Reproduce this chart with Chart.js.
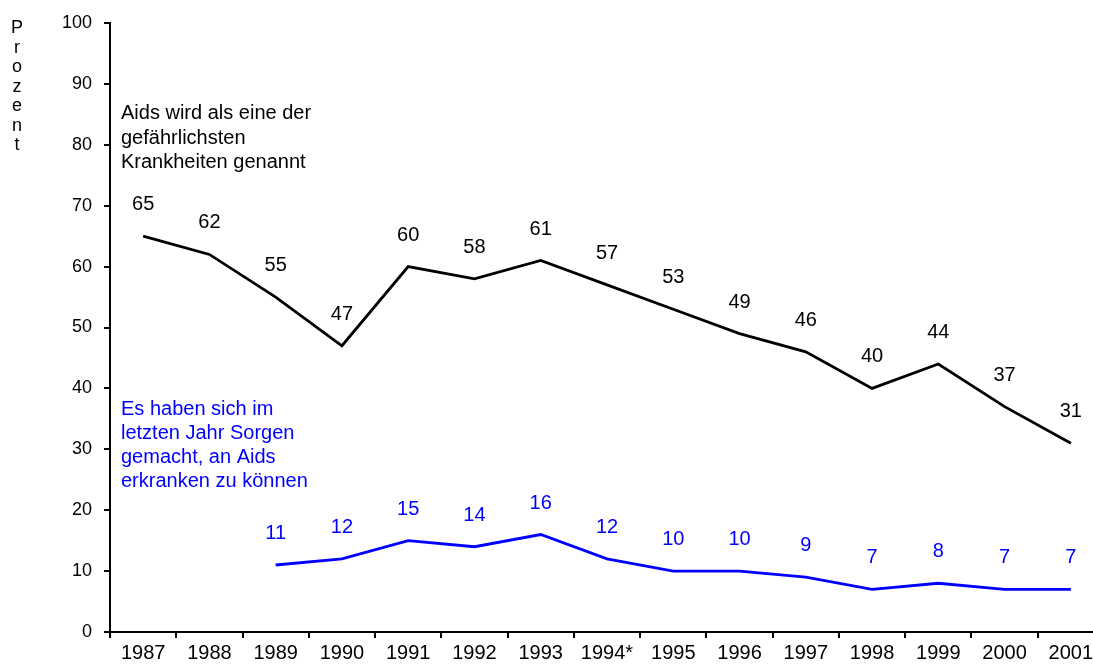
<!DOCTYPE html>
<html>
<head>
<meta charset="utf-8">
<script src="https://cdn.jsdelivr.net/npm/chart.js@4"></script>
<style>
  html, body { margin: 0; padding: 0; background: #fff; overflow: hidden; }
  #wrap { width: 1106px; height: 671px; }
</style>
</head>
<body>
<div id="wrap"><canvas id="chart"></canvas></div>
<script>
// Jahre und Werte (Prozent)
const years = ["1987", "1988", "1989", "1990", "1991", "1992", "1993", "1994*", "1995", "1996", "1997", "1998", "1999", "2000", "2001"];
const gefaehrlich = [65, 62, 55, 47, 60, 58, 61, 57, 53, 49, 46, 40, 44, 37, 31];
const sorgen = [null, null, 11, 12, 15, 14, 16, 12, 10, 10, 9, 7, 8, 7, 7];

const noteBlack = ["Aids wird als eine der", "gefährlichsten", "Krankheiten genannt"];
const noteBlue = ["Es haben sich im", "letzten Jahr Sorgen", "gemacht, an Aids", "erkranken zu können"];
const axisTitle = "Prozent";

const FONT = "'Liberation Sans', Arial, sans-serif";
const BLUE = "#0000ff";

// Werte über den Punkten + Beschriftungen
const labelPlugin = {
  id: "labels",
  afterDatasetsDraw(chart) {
    const { ctx, chartArea } = chart;
    ctx.save();
    ctx.font = "20px " + FONT;
    ctx.textAlign = "center";
    ctx.textBaseline = "alphabetic";
    chart.data.datasets.forEach((ds, i) => {
      const meta = chart.getDatasetMeta(i);
      ctx.fillStyle = ds.borderColor;
      meta.data.forEach((pt, j) => {
        const v = ds.data[j];
        if (v === null || pt.skip) return;
        ctx.fillText(String(v), pt.x, pt.y - 26);
      });
    });

    ctx.textAlign = "left";
    const x0 = chartArea.left + 11;
    ctx.fillStyle = "#000";
    noteBlack.forEach((t, i) => ctx.fillText(t, x0, 119 + i * 24.5));
    ctx.fillStyle = BLUE;
    noteBlue.forEach((t, i) => ctx.fillText(t, x0, 415 + i * 24));

    // "Prozent" senkrecht, Buchstabe für Buchstabe
    ctx.fillStyle = "#000";
    ctx.font = "18px " + FONT;
    ctx.textAlign = "center";
    axisTitle.split("").forEach((c, i) => ctx.fillText(c, 17, 33 + i * 19.5));
    ctx.restore();
  }
};

new Chart(document.getElementById("chart"), {
  type: "line",
  data: {
    labels: years,
    datasets: [
      {
        data: gefaehrlich,
        borderColor: "#000",
        borderWidth: 2.8,
        pointRadius: 0,
        tension: 0,
        fill: false
      },
      {
        data: sorgen,
        borderColor: BLUE,
        borderWidth: 2.8,
        pointRadius: 0,
        tension: 0,
        fill: false,
        spanGaps: false
      }
    ]
  },
  options: {
    responsive: true,
    maintainAspectRatio: false,
    animation: false,
    layout: { padding: { top: 23, right: 2, left: 0, bottom: 0 } },
    plugins: {
      legend: { display: false },
      tooltip: { enabled: false }
    },
    scales: {
      x: {
        offset: true,
        grid: { offset: true, drawOnChartArea: false, drawTicks: true, tickLength: 6, color: "#000", lineWidth: 2 },
        border: { display: true, color: "#000", width: 2 },
        ticks: { color: "#000", padding: 3, maxRotation: 0, autoSkip: false, font: { family: FONT, size: 20 } },
        afterFit: (s) => { s.height = 39; }
      },
      y: {
        min: 0,
        max: 100,
        grid: { drawOnChartArea: false, drawTicks: true, tickLength: 6, color: "#000", lineWidth: 2 },
        border: { display: true, color: "#000", width: 2 },
        ticks: { stepSize: 10, color: "#000", padding: 12, font: { family: FONT, size: 18 } },
        afterFit: (s) => { s.width = 110; }
      }
    }
  },
  plugins: [labelPlugin]
});
</script>
</body>
</html>
